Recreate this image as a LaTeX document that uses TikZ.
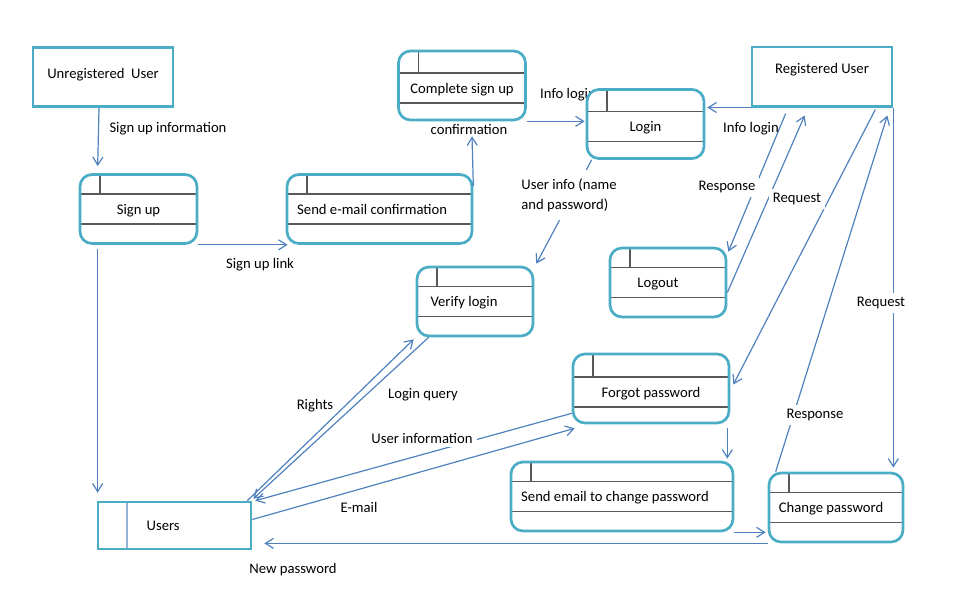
\documentclass[tikz,border=0pt]{standalone}
\usepackage{fontspec}
\setmainfont{Carlito}
\usepackage{tikz}
\usetikzlibrary{arrows.meta, calc}
\definecolor{boxteal}{HTML}{4BACC6}
\definecolor{flowblue}{HTML}{4F81BD}
\definecolor{linegray}{HTML}{595959}
\definecolor{storeline}{HTML}{95B3D7}

\begin{document}
\begin{tikzpicture}[
    x=0.75pt, y=-0.75pt, font=\fontsize{11}{15}\selectfont,
    bandshift/.store in=\bandshift, bandshift=0pt,
    innerline/.style={draw=linegray, line width=1.1pt},
    proc/.style={draw=boxteal, line width=2pt, rounded corners=9pt, fill=white, minimum width=#1, minimum height=51.75pt, inner sep=1pt,
        text height=9.9pt, text depth=2.2pt,
        path picture={
            \draw[innerline] ([yshift=11.25pt-\bandshift]path picture bounding box.west) -- ([yshift=11.25pt-\bandshift]path picture bounding box.east);
            \draw[innerline] ([yshift=-11.25pt-\bandshift]path picture bounding box.west) -- ([yshift=-11.25pt-\bandshift]path picture bounding box.east);
            \draw[innerline] ([xshift=15pt]path picture bounding box.north west) -- ([xshift=15pt,yshift=11.25pt-\bandshift]path picture bounding box.west);
        }},
    padr/.style={execute at end node={\hspace*{#1}}},
    entity/.style={draw=boxteal, line width=2pt, fill=white, minimum width=105pt, minimum height=44.5pt},
    store/.style={draw=boxteal, line width=2pt, fill=white, minimum width=114.75pt, minimum height=35.25pt,
        path picture={
            \draw[storeline, line width=0.9pt] ([xshift=21.75pt]path picture bounding box.north west) -- ([xshift=21.75pt]path picture bounding box.south west);
        }},
    flow/.style={draw=flowblue, line width=0.9pt, -{Straight Barb[length=6pt, width=7.5pt]}},
    lbl/.style={inner sep=1pt},
    lblw/.style={inner sep=3pt, fill=white},
]
\useasboundingbox (0,0) rectangle (958,596);
\node[lbl] (ilbl1) at (568,95) {Info login};
\node[entity, text depth=5pt] (uu) at (103,77) {Unregistered\ \ User};
\node[entity, text depth=12pt] (ru) at (822,76.5) {Registered User};
\node[proc=87.75pt] (su) at (138.5,209) {Sign up};
\node[proc=138.75pt, padr=11pt] (se) at (379.5,209) {Send e-mail confirmation};
\node[proc=95.25pt, bandshift=1.9pt, text height=13.7pt] (cs) at (462,85.5) {Complete sign up};
\node[proc=87.75pt, bandshift=1.9pt, text height=13.7pt] (li) at (645.5,124) {Login};
\node[proc=87pt, padr=16.5pt] (vl) at (475,301.5) {Verify login};
\node[proc=87pt, padr=15pt] (lo) at (668,282.5) {Logout};
\node[proc=117pt, bandshift=2.6pt, text height=15.1pt] (fp) at (651,388.5) {Forgot password};
\node[proc=166.5pt, padr=10.5pt] (sc) at (622,496.5) {Send email to change password};
\node[proc=100.5pt, padr=7.5pt] (cp) at (836,507.5) {Change password};
\node[store, padr=17pt] (us) at (174.5,525.5) {Users};

\draw[flow] ($(uu.south)+(-4,0)$) -- ($(su.north west)+(19,-7)$);
\draw[flow] (su.south east) -- ($(se.south west)+(2,0)$);
\draw[flow] ($(se.north east)+(0,13)$) -- ($(cs.south)+(10,15)$);
\draw[flow] (cs.south east) -- ($(cs.south east -| li.west)+(-1,0)$);
\draw[flow] (ru.south west) -- ($(ru.south west -| li.east)+(2,0)$);
\draw[flow] ($(ru.south west)+(35,6)$) -- ($(lo.north east)+(1,5)$);
\draw[flow] ($(lo.east)+(0,10)$) -- ($(ru.south west)+(54,8)$);
\draw[flow] ($(ru.south east)+(-18,2)$) -- ($(fp.east)+(3,-4)$);
\draw[flow] ($(cp.north west)+(8,0)$) -- ($(ru.south east)+(-6,8)$);
\draw[flow] (ru.south east) -- ($(cp.north east)+(-11,-4)$);
\draw[flow] ($(li.south west)+(6,0)$) -- ($(vl.north east)+(2,-2)$);
\draw[flow] ($(vl.south west)+(13,0)$) -- ($(us.north east)+(1,-2)$);
\draw[flow] ($(us.north east)+(-5,0)$) -- ($(vl.south west)+(-2,2)$);
\draw[flow] ($(fp.south west)+(0,-11)$) -- ($(us.north east)+(3,0)$);
\draw[flow] ($(us.east)+(0,-6)$) -- ($(fp.south west)+(3,4)$);
\draw[flow] ($(fp.south east)+(-3,4)$) -- ($(sc.north east)+(-7,-2)$);
\draw[flow] (sc.south east) -- ($(cp.west |- sc.south east)+(-2,0)$);
\draw[flow] (cp.south west) -- ($(us.east |- cp.south west)+(12,0)$);
\draw[flow] ($(su.south west)+(19,4)$) -- ($(us.north west)+(1,-8)$);

\node[lbl] (suinfo) at (168,129) {Sign up information};
\node[lbl] (sulink) at (260,265) {Sign up link};
\node[lbl] (csconf) at (469,129) {confirmation};
\node[lbl] (ilbl2) at (751,129) {Info login};
\node[lblw, align=left, inner ysep=6pt] (uinfo) at (569,195) {User info (name\\and password)};
\node[lblw] (resp1) at (727,187) {Response};
\node[lblw] (req1) at (797,199) {Request};
\node[lblw] (req2) at (881,303) {Request};
\node[lblw] (resp2) at (815,415) {Response};
\node[lbl] (rights) at (315,406) {Rights};
\node[lbl] (lquery) at (423,395) {Login query};
\node[lblw] (uinfo2) at (422,438) {User information};
\node[lblw] (email) at (359,507) {E-mail};
\node[lbl] (newpw) at (293,570) {New password};
\end{tikzpicture}
\end{document}
